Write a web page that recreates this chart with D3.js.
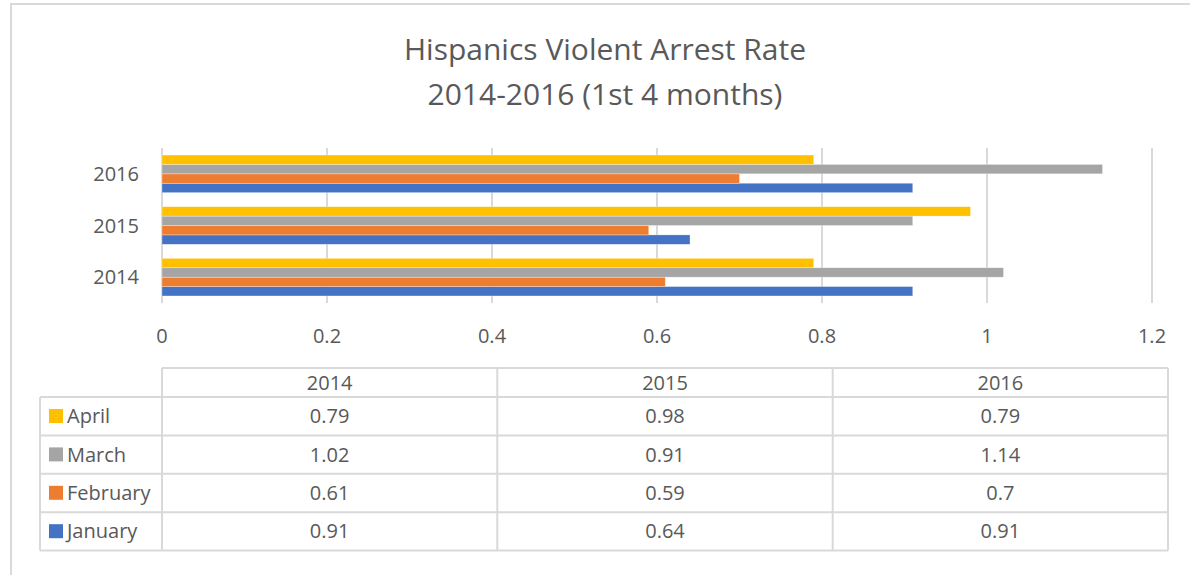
<!DOCTYPE html>
<html>
<head>
<meta charset="utf-8">
<script src="https://cdn.jsdelivr.net/npm/d3@7/dist/d3.min.js"></script>
<style>
  body { margin: 0; background: #fff; }
  svg text { font-family: "Open Sans", "Noto Sans", sans-serif; fill: #595959; }
</style>
</head>
<body>
<svg id="chart" width="1190" height="575"></svg>
<script>
// chart data
var titleLines = ['Hispanics Violent Arrest Rate', '2014-2016 (1st 4 months)'];
var years = ['2014', '2015', '2016'];
var months = ['January', 'February', 'March', 'April'];
var january = [0.91, 0.64, 0.91];
var february = [0.61, 0.59, 0.7];
var march = [1.02, 0.91, 1.14];
var april = [0.79, 0.98, 0.79];
var xTicks = [0, 0.2, 0.4, 0.6, 0.8, 1, 1.2];
var colors = ['#4472C4', '#ED7D31', '#A5A5A5', '#FFC000'];

var series = [january, february, march, april];

var svg = d3.select('#chart');
var grid_col = '#D9D9D9';
var fs = '20px';

// outer chart border
svg.append('rect')
  .attr('x', 11).attr('y', 4)
  .attr('width', 1190).attr('height', 600)
  .style('fill', 'none')
  .style('stroke', grid_col)
  .style('stroke-width', 2);

// title
svg.selectAll('.title')
  .data(titleLines)
  .enter()
  .append('text')
  .attr('class', 'title')
  .attr('x', 605)
  .attr('y', function(d, i){ return 60 + i * 45; })
  .attr('text-anchor', 'middle')
  .style('font-size', '30px')
  .text(function(d){ return d; });

// scales
var x = d3.scaleLinear().domain([0, 1.2]).range([162, 1152]);
var y = d3.scaleBand()
  .domain(years.slice().reverse())
  .range([148, 303])
  .paddingInner(0.272)
  .paddingOuter(0.136);
// April on top, January at bottom
var ys = d3.scaleBand()
  .domain(months.slice().reverse())
  .range([0, y.bandwidth()]);

// gridlines
svg.append('g')
  .selectAll('line')
  .data(xTicks)
  .enter()
  .append('line')
  .attr('x1', function(d){ return x(d); })
  .attr('x2', function(d){ return x(d); })
  .attr('y1', 148)
  .attr('y2', 303)
  .style('stroke', grid_col)
  .style('stroke-width', 2);

// tick labels
svg.append('g')
  .selectAll('text')
  .data(xTicks)
  .enter()
  .append('text')
  .attr('x', function(d){ return x(d); })
  .attr('y', 343)
  .attr('text-anchor', 'middle')
  .style('font-size', fs)
  .text(function(d){ return d; });

// year labels
svg.append('g')
  .selectAll('text')
  .data(years)
  .enter()
  .append('text')
  .attr('x', 139)
  .attr('y', function(d){ return y(d) + y.bandwidth() / 2 + 7; })
  .attr('text-anchor', 'end')
  .style('font-size', fs)
  .text(function(d){ return d; });

// bars
months.forEach(function(m, si){
  svg.append('g')
    .selectAll('rect')
    .data(series[si])
    .enter()
    .append('rect')
    .attr('x', x(0))
    .attr('y', function(d, i){ return y(years[i]) + ys(m); })
    .attr('width', function(d){ return x(d) - x(0); })
    .attr('height', ys.bandwidth())
    .style('fill', colors[si])
    .style('stroke', '#fff')
    .style('stroke-opacity', 0.5)
    .style('stroke-width', 0.6);
});

// data table
var colEdges = [40, 162, 497.3, 832.7, 1168];
var headTop = 368, headBot = 397, rowH = 38.4;
var tbl = svg.append('g');
var tableRows = months.slice().reverse();

function hline(x1, x2, yy){
  tbl.append('line').attr('x1', x1).attr('x2', x2).attr('y1', yy).attr('y2', yy)
    .style('stroke', grid_col).style('stroke-width', 2);
}
function vline(xx, y1, y2){
  tbl.append('line').attr('x1', xx).attr('x2', xx).attr('y1', y1).attr('y2', y2)
    .style('stroke', grid_col).style('stroke-width', 2);
}
var tableBot = headBot + rowH * tableRows.length;
hline(colEdges[1], colEdges[4], headTop);
hline(colEdges[0], colEdges[4], headBot);
tableRows.forEach(function(m, r){ hline(colEdges[0], colEdges[4], headBot + rowH * (r + 1)); });
vline(colEdges[0], headBot, tableBot);
vline(colEdges[1], headTop, tableBot);
vline(colEdges[2], headTop, tableBot);
vline(colEdges[3], headTop, tableBot);
vline(colEdges[4], headTop, tableBot);

// header text
tbl.selectAll('.head')
  .data(years)
  .enter()
  .append('text')
  .attr('class', 'head')
  .attr('x', function(d, i){ return (colEdges[i + 1] + colEdges[i + 2]) / 2; })
  .attr('y', headBot - 7)
  .attr('text-anchor', 'middle')
  .style('font-size', fs)
  .text(function(d){ return d; });

// rows with legend keys
tableRows.forEach(function(m, r){
  var si = months.indexOf(m);
  var top = headBot + rowH * r;
  tbl.append('rect')
    .attr('x', 49).attr('y', top + 12)
    .attr('width', 14).attr('height', 14)
    .style('fill', colors[si]);
  tbl.append('text')
    .attr('x', 67).attr('y', top + rowH / 2 + 7)
    .style('font-size', fs)
    .text(m);
  tbl.selectAll('.v' + si)
    .data(series[si])
    .enter()
    .append('text')
    .attr('x', function(d, i){ return (colEdges[i + 1] + colEdges[i + 2]) / 2; })
    .attr('y', top + rowH / 2 + 7)
    .attr('text-anchor', 'middle')
    .style('font-size', fs)
    .text(function(d){ return d; });
});
</script>
</body>
</html>
